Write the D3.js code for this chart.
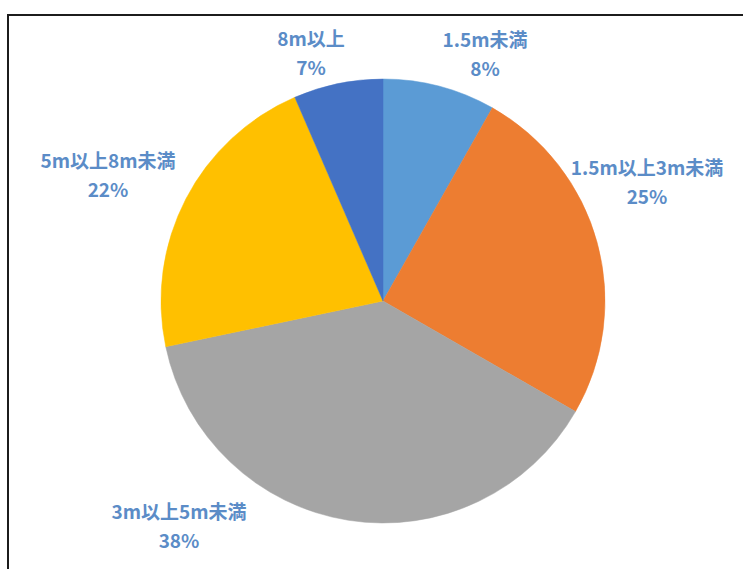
<!DOCTYPE html>
<html><head><meta charset="utf-8">
<script src="https://cdn.jsdelivr.net/npm/d3@7/dist/d3.min.js"></script>
<style>html,body{margin:0;padding:0;background:#fff;}svg{display:block;}</style>
</head><body>
<svg id="chart" width="743" height="569"></svg>
<script>
// data
const categories = ["1.5m未満", "1.5m以上3m未満", "3m以上5m未満", "5m以上8m未満", "8m以上"];
const values = [8.2, 25.1, 38.4, 21.8, 6.5];
const colors = ["#5B9BD5", "#ED7D31", "#A5A5A5", "#FFC000", "#4472C4"];

// layout (label block positions relative to pie centre)
const labelOffsets = [[102, -261], [264, -133], [-204, 211], [-275, -140], [-72, -262]];

const W = 743, H = 569;
const cx = 383, cy = 301, R = 222;
const svg = d3.select("#chart");

// frame
svg.append("path")
  .attr("d", `M8,${H} L8,15 L${W},15`)
  .attr("fill", "none").attr("stroke", "#1c1c1c").attr("stroke-width", 2);

const total = d3.sum(values);
const pie = d3.pie().sort(null).value(d => d)(values);
const arc = d3.arc().innerRadius(0).outerRadius(R);

const g = svg.append("g").attr("transform", `translate(${cx},${cy})`);
g.selectAll("path.slice").data(pie).join("path")
  .attr("class", "slice")
  .attr("d", arc)
  .attr("fill", (d, i) => colors[i])
  .attr("stroke", (d, i) => colors[i])
  .attr("stroke-width", 0.5);

const lab = g.selectAll("g.lab").data(pie).join("g")
  .attr("class", "lab")
  .attr("transform", (d, i) => `translate(${labelOffsets[i][0]},${labelOffsets[i][1]})`);
const txtStyle = sel => sel
  .attr("text-anchor", "middle")
  .attr("font-family", "'Noto Sans CJK JP', 'Noto Sans', sans-serif")
  .attr("font-weight", "bold")
  .attr("font-size", 19)
  .attr("fill", "#5B8CC7");
lab.append("text").call(txtStyle).attr("y", 7).text((d, i) => categories[i]);
lab.append("text").call(txtStyle).attr("y", 36).text(d => Math.round(d.value / total * 100) + "%");
</script>
</body></html>
